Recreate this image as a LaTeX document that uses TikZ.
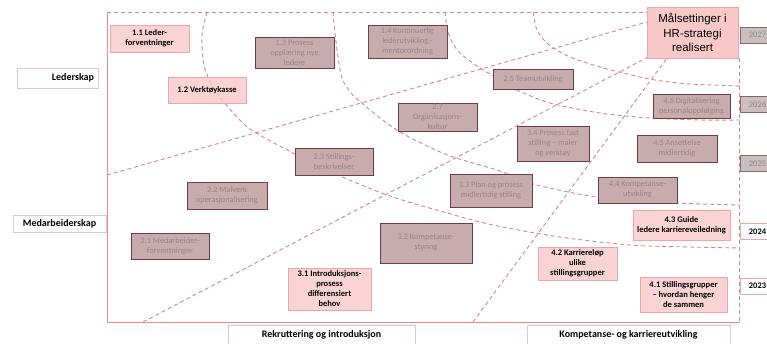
\documentclass[tikz,border=0pt]{standalone}
\usepackage{fontspec}
\setmainfont{Carlito}
\newfontfamily\arialfont{Liberation Sans}
\usepackage{xcolor}
\usetikzlibrary{positioning}
\definecolor{routecol}{HTML}{D0868B}
\definecolor{framecol}{HTML}{F08A8A}
\definecolor{pinkfill}{HTML}{F9C9C9}
\definecolor{pinkline}{HTML}{F0A5A5}
\definecolor{mauvefill}{HTML}{C8ABAD}
\definecolor{mauveline}{HTML}{6E3C46}
\definecolor{mauvetext}{HTML}{978486}
\definecolor{labelline}{HTML}{E8C4C4}
\definecolor{yearfill}{HTML}{C9BFBF}

\tikzset{
  route/.style={routecol, line width=0.9pt, dash pattern=on 4pt off 3pt},
  frameline/.style={framecol, line width=0.9pt},
  box/.style={rectangle, align=center, inner sep=1pt, font=\fontsize{8.3}{10}\selectfont},
  pinkbox/.style={box, draw=pinkline, fill=pinkfill, fill opacity=0.8, text opacity=1,
    font=\fontsize{8.5}{10}\selectfont\bfseries},
  mauvebox/.style={box, draw=mauveline, line width=1pt, fill=mauvefill, text=mauvetext},
  labelbox/.style={rectangle, draw=labelline, fill=white, inner sep=2pt,
    font=\fontsize{10}{12}\selectfont\bfseries},
  goalbox/.style={rectangle, draw=pinkline, fill=pinkfill, align=center, inner sep=1pt,
    font=\arialfont\fontsize{11.5}{14.5}\selectfont},
  oldyear/.style={rectangle, draw=mauveline!80, line width=0.8pt, fill=yearfill, text=mauvetext,
    minimum width=35pt, minimum height=16pt, font=\fontsize{8.5}{10}\selectfont},
  newyear/.style={rectangle, draw=pinkline, fill=white,
    minimum width=35pt, minimum height=16pt, font=\fontsize{8.5}{10}\selectfont\bfseries}
}

\begin{document}
\begin{tikzpicture}[x=1pt, y=-1pt]
  \useasboundingbox (0,0) rectangle (767,343);

  % routes through the plan
  \draw[route] (107,12) -- (647,12);
  \draw[route] (739,58) -- (739,322);
  \draw[route] plot[smooth] coordinates {(207,12) (202,35) (204,65) (213,87) (228,107) (250,129)
    (293,153) (340,176) (390,196) (440,211) (493,225) (560,237) (630,245) (690,247) (740,248)};
  \draw[route] plot[smooth] coordinates {(333,12) (335,33) (338,57) (342,78) (351,93) (363,104)
    (380,118) (400,132) (427,146) (453,157) (500,171) (533,184) (597,197) (677,203) (740,205)};
  \draw[route] plot[smooth] coordinates {(445,12) (447,28) (452,42) (461,54) (477,66) (495,77)
    (517,90) (550,103) (600,113) (650,118) (700,120) (740,120)};
  \draw[route] plot[smooth] coordinates {(533,12) (537,30) (548,44) (570,57) (600,67) (623,73)
    (655,80) (690,84) (740,86)};
  \draw[route] (107,175) -- (647,22);
  \draw[route] (143,322) -- (648,57);
  \draw[route] (473,322) -- (667,58);

  % frame
  \draw[frameline] (107,12) -- (107,322) -- (740,322);

  % axis labels
  \node[labelbox, minimum width=81pt, minimum height=20pt, text width=73pt, align=right] (lederskap) at (57.5,78) {Lederskap};
  \node[labelbox, minimum width=93pt, minimum height=17pt] (medarbeiderskap) at (59.5,223.5) {Medarbeiderskap};
  \node[labelbox, minimum width=187pt, minimum height=20pt] (rekruttering) at (321.5,335) {Rekruttering og introduksjon};
  \node[labelbox, minimum width=203pt, minimum height=20pt] (karriere) at (628.5,335) {Kompetanse- og karriereutvikling};

  % goal
  \node[goalbox, minimum width=91pt, minimum height=51pt] (goal) at (692.5,32.5) {Målsettinger i\\HR-strategi\\realisert};

  % later steps
  \node[mauvebox, minimum width=79pt, minimum height=31pt] (opplaering) at (294.5,52.5) {1.3 Prosess\\opplæring nye\\ledere};
  \node[mauvebox, minimum width=79pt, minimum height=33pt] (mentor) at (407.5,41.5) {1.4 Kontinuerlig\\lederutvikling -\\mentorordning};
  \node[mauvebox, minimum width=80pt, minimum height=20pt] (team) at (533,79) {2.5 Teamutvikling};
  \node[mauvebox, minimum width=79pt, minimum height=28pt] (kultur) at (437.5,117) {2.7\\Organisasjons-\\kultur};
  \node[mauvebox, minimum width=78pt, minimum height=27pt] (stilling) at (334,161.5) {2.3 Stillings-\\beskrivelser};
  \node[mauvebox, minimum width=80pt, minimum height=27pt] (malverk) at (227,195.5) {2.2 Malverk\\operasjonalisering};
  \node[mauvebox, minimum width=78pt, minimum height=26pt] (medforv) at (170,246) {2.1 Medarbeider-\\forventninger};
  \node[mauvebox, minimum width=92pt, minimum height=40pt] (styring) at (426,243) {3.2 Kompetanse-\\styring};
  \node[mauvebox, minimum width=82pt, minimum height=33pt] (midlplan) at (491,190.5) {3.3 Plan og prosess\\midlertidig stilling};
  \node[mauvebox, minimum width=72pt, minimum height=35pt] (fast) at (553,143.5) {3.4 Prosess fast\\stilling – maler\\og verktøy};
  \node[mauvebox, minimum width=79pt, minimum height=26pt] (kompuv) at (637.5,190) {4.4 Kompetanse-\\utvikling};
  \node[mauvebox, minimum width=80pt, minimum height=27pt] (ansett) at (677,148.5) {4.5 Ansettelse\\midlertidig};
  \node[mauvebox, minimum width=77pt, minimum height=24pt] (digital) at (691.5,106) {4.6 Digitalisering\\personaloppfølging};

  % first steps
  \node[pinkbox, minimum width=79pt, minimum height=27pt] (lederforv) at (149.5,38.5) {1.1 Leder-\\forventninger};
  \node[pinkbox, minimum width=78pt, minimum height=26pt] (verktoy) at (207,90) {1.2 Verktøykasse};
  \node[pinkbox, minimum width=83pt, minimum height=42pt] (intro) at (329.5,289) {3.1 Introduksjons-\\prosess\\differensiert\\behov};
  \node[pinkbox, minimum width=97pt, minimum height=30pt] (guide) at (681.5,225) {4.3 Guide\\ledere karriereveiledning};
  \node[pinkbox, minimum width=79pt, minimum height=33pt] (karrlop) at (577.5,263.5) {4.2 Karriereløp\\ulike\\stillingsgrupper};
  \node[pinkbox, minimum width=87pt, minimum height=35pt] (grupper) at (683.5,294.5) {4.1 Stillingsgrupper\\– hvordan henger\\de sammen};

  % years
  \foreach \yr/\yc in {2027/35, 2026/104.5, 2025/163.5}
    \node[oldyear] (y\yr) at (757.5,\yc) {\yr};
  \foreach \yr/\yc in {2024/231.5, 2023/286}
    \node[newyear] (y\yr) at (757.5,\yc) {\yr};
\end{tikzpicture}
\end{document}
